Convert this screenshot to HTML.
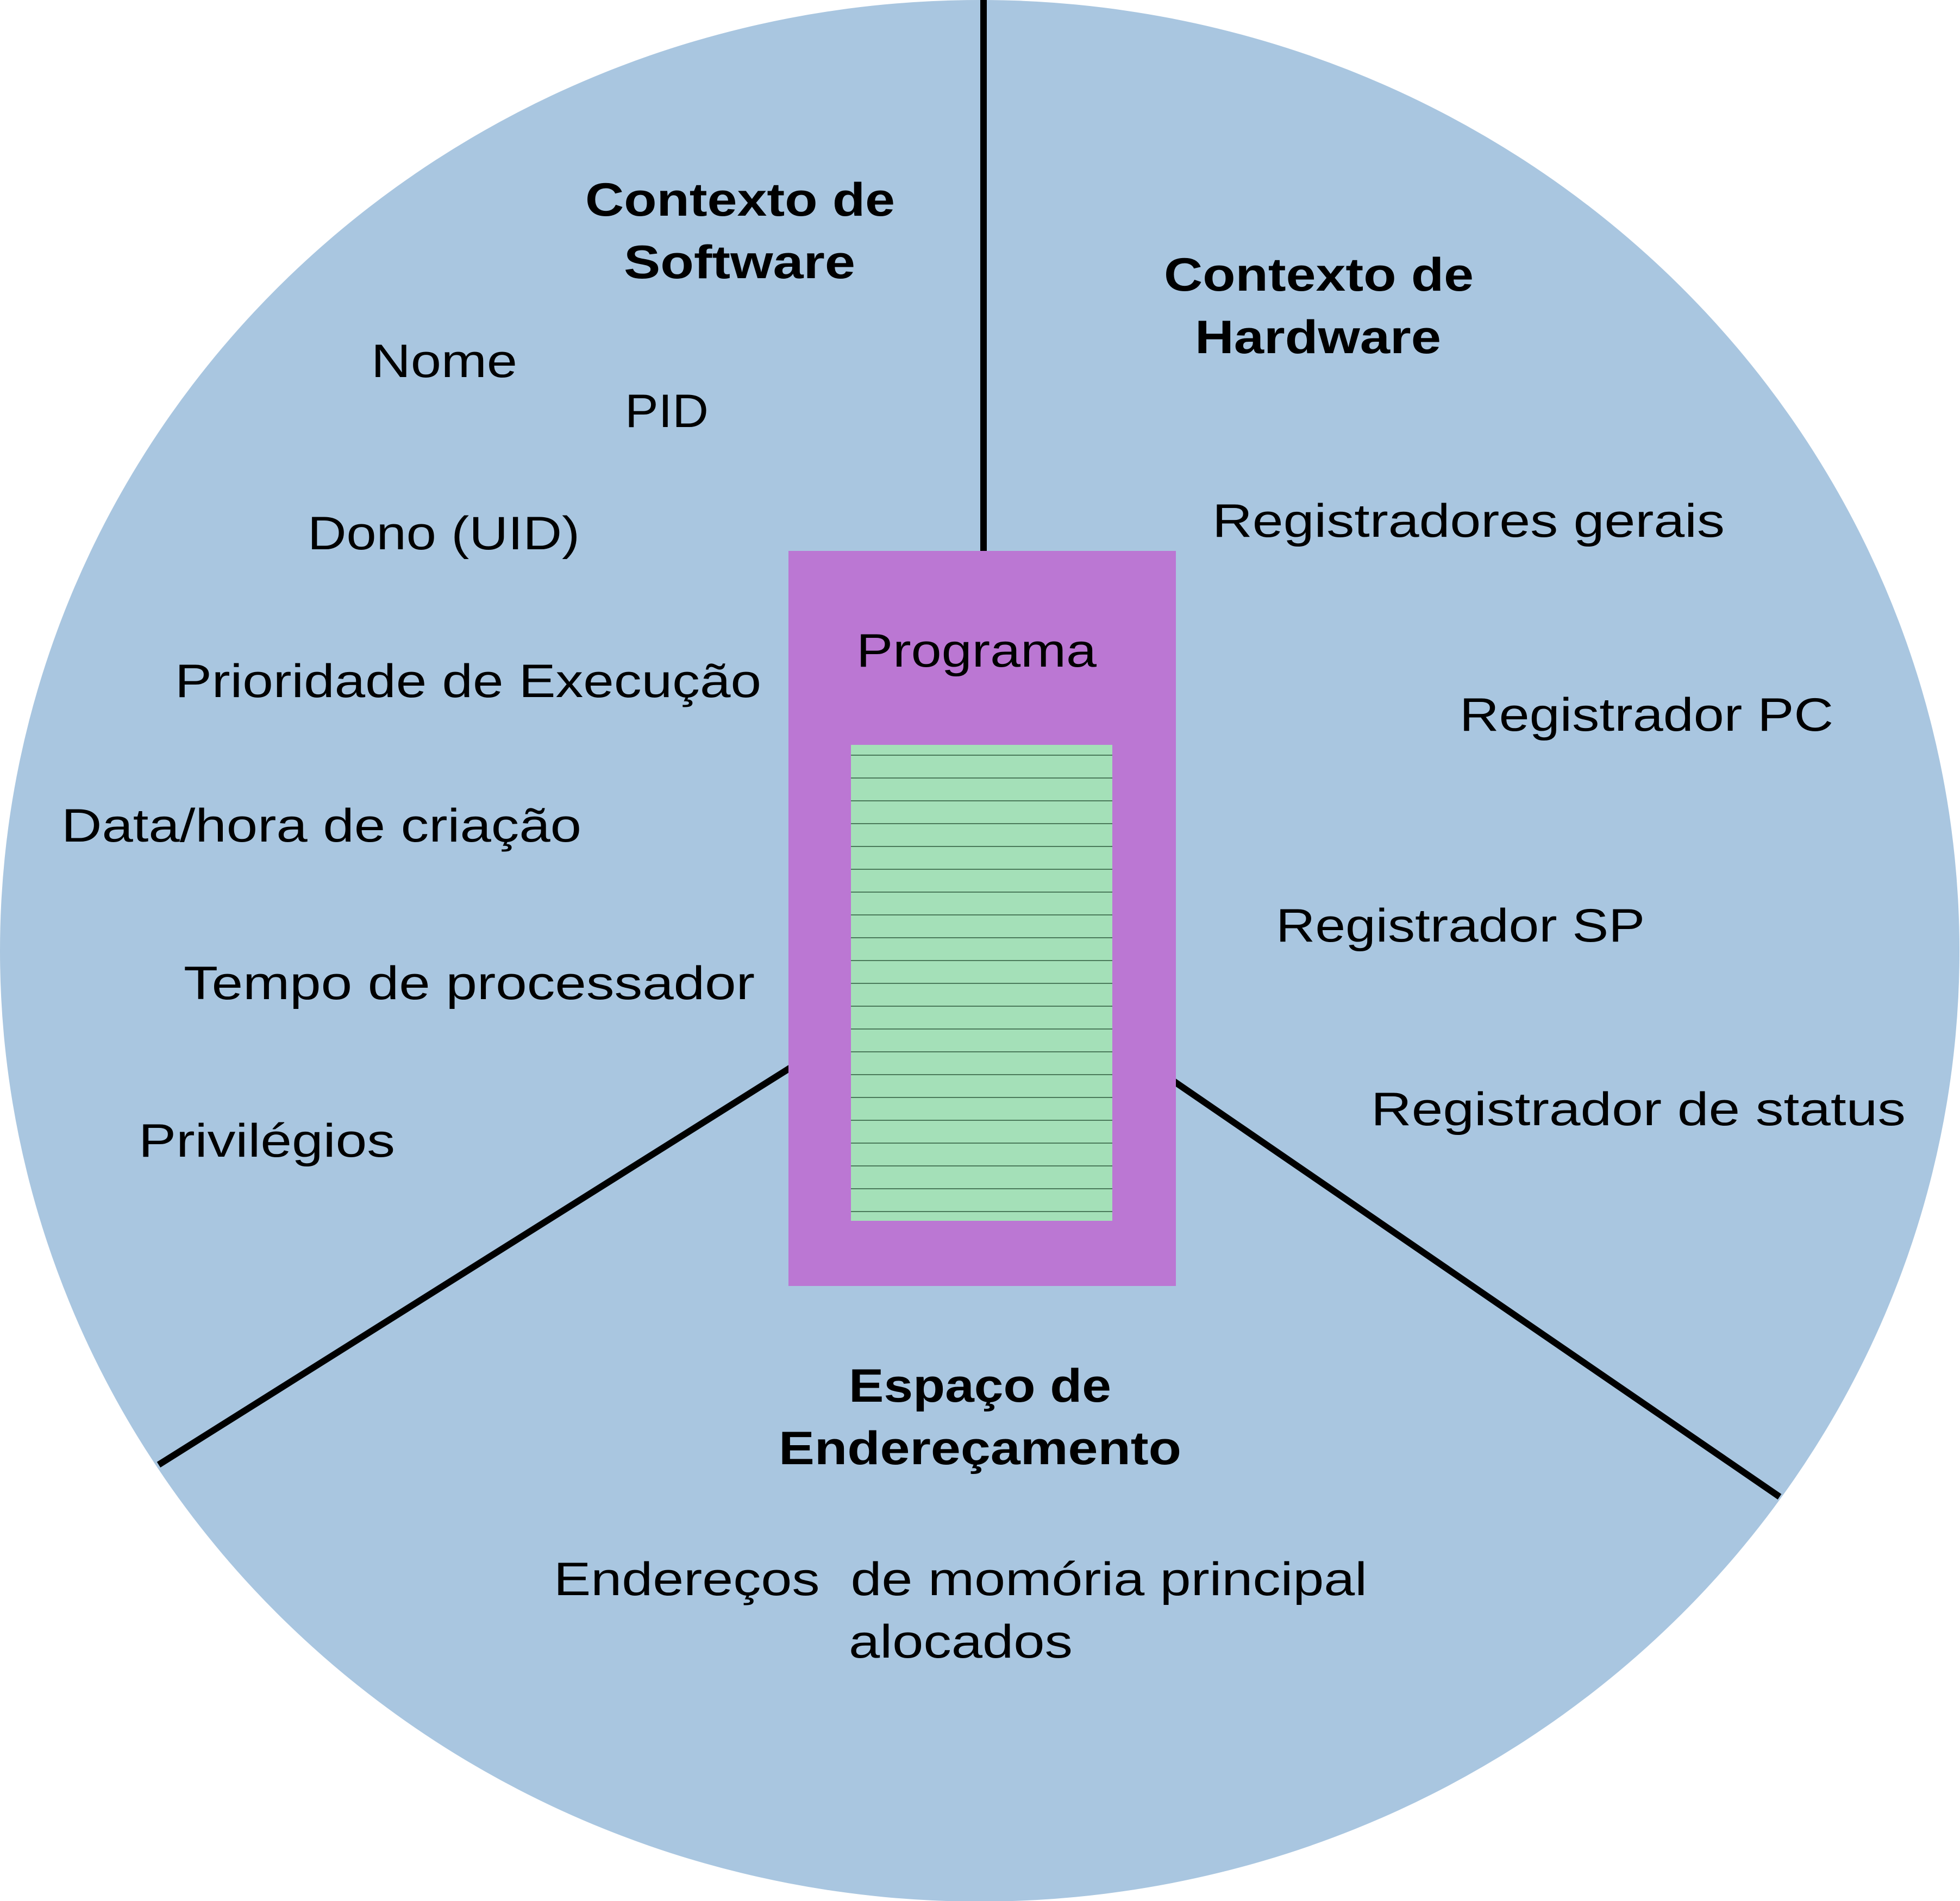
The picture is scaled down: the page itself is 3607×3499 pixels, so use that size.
<!DOCTYPE html>
<html><head><meta charset="utf-8"><style>
html,body{margin:0;padding:0;background:#fff;}
svg{display:block;}
text{font-family:"Liberation Sans",sans-serif;font-size:86px;fill:#000;dominant-baseline:central;}
.b{font-weight:bold;}
</style></head><body>
<svg width="3607" height="3499" viewBox="0 0 3607 3499" xmlns="http://www.w3.org/2000/svg">
<ellipse cx="1803" cy="1750" rx="1803" ry="1750" fill="#a9c6e0"/>
<line x1="1810" y1="0" x2="1810" y2="1020" stroke="#000" stroke-width="12"/>
<line x1="1455" y1="1965" x2="292" y2="2696" stroke="#000" stroke-width="12"/>
<line x1="2160" y1="1990" x2="3275" y2="2755" stroke="#000" stroke-width="12"/>
<rect x="1451" y="1014" width="713" height="1353" fill="#bb77d3"/>
<rect x="1566" y="1371" width="481" height="876" fill="#a4e0b8"/>
<g stroke="#4a7a5a" stroke-width="2">
<line x1="1566" y1="1390" x2="2047" y2="1390"/>
<line x1="1566" y1="1432" x2="2047" y2="1432"/>
<line x1="1566" y1="1474" x2="2047" y2="1474"/>
<line x1="1566" y1="1516" x2="2047" y2="1516"/>
<line x1="1566" y1="1558" x2="2047" y2="1558"/>
<line x1="1566" y1="1600" x2="2047" y2="1600"/>
<line x1="1566" y1="1642" x2="2047" y2="1642"/>
<line x1="1566" y1="1684" x2="2047" y2="1684"/>
<line x1="1566" y1="1726" x2="2047" y2="1726"/>
<line x1="1566" y1="1768" x2="2047" y2="1768"/>
<line x1="1566" y1="1810" x2="2047" y2="1810"/>
<line x1="1566" y1="1852" x2="2047" y2="1852"/>
<line x1="1566" y1="1894" x2="2047" y2="1894"/>
<line x1="1566" y1="1936" x2="2047" y2="1936"/>
<line x1="1566" y1="1978" x2="2047" y2="1978"/>
<line x1="1566" y1="2020" x2="2047" y2="2020"/>
<line x1="1566" y1="2062" x2="2047" y2="2062"/>
<line x1="1566" y1="2104" x2="2047" y2="2104"/>
<line x1="1566" y1="2146" x2="2047" y2="2146"/>
<line x1="1566" y1="2188" x2="2047" y2="2188"/>
<line x1="1566" y1="2230" x2="2047" y2="2230"/>
</g>
<text class="b" x="1077" y="368" textLength="570" lengthAdjust="spacingAndGlyphs">Contexto de</text>
<text class="b" x="1148" y="483" textLength="426" lengthAdjust="spacingAndGlyphs">Software</text>
<text class="b" x="2142" y="506" textLength="570" lengthAdjust="spacingAndGlyphs">Contexto de</text>
<text class="b" x="2199" y="621" textLength="453" lengthAdjust="spacingAndGlyphs">Hardware</text>
<text x="683" y="665" textLength="269" lengthAdjust="spacingAndGlyphs">Nome</text>
<text x="1150" y="757" textLength="154" lengthAdjust="spacingAndGlyphs">PID</text>
<text x="566" y="982" textLength="501" lengthAdjust="spacingAndGlyphs">Dono (UID)</text>
<text x="322" y="1254" textLength="1079" lengthAdjust="spacingAndGlyphs">Prioridade de Execução</text>
<text x="113" y="1520" textLength="957" lengthAdjust="spacingAndGlyphs">Data/hora de criação</text>
<text x="338" y="1810" textLength="1051" lengthAdjust="spacingAndGlyphs">Tempo de processador</text>
<text x="255" y="2100" textLength="472" lengthAdjust="spacingAndGlyphs">Privilégios</text>
<text x="2231" y="959" textLength="943" lengthAdjust="spacingAndGlyphs">Registradores gerais</text>
<text x="2686" y="1316" textLength="688" lengthAdjust="spacingAndGlyphs">Registrador PC</text>
<text x="2348" y="1704" textLength="679" lengthAdjust="spacingAndGlyphs">Registrador SP</text>
<text x="2523" y="2042" textLength="984" lengthAdjust="spacingAndGlyphs">Registrador de status</text>
<text x="1576" y="1198" textLength="442" lengthAdjust="spacingAndGlyphs">Programa</text>
<text class="b" x="1562" y="2551" textLength="483" lengthAdjust="spacingAndGlyphs">Espaço de</text>
<text class="b" x="1433" y="2666" textLength="741" lengthAdjust="spacingAndGlyphs">Endereçamento</text>
<text x="1019" y="2907" textLength="1497" lengthAdjust="spacingAndGlyphs">Endereços&#160; de momória principal</text>
<text x="1562" y="3022" textLength="412" lengthAdjust="spacingAndGlyphs">alocados</text>
</svg>
</body></html>
